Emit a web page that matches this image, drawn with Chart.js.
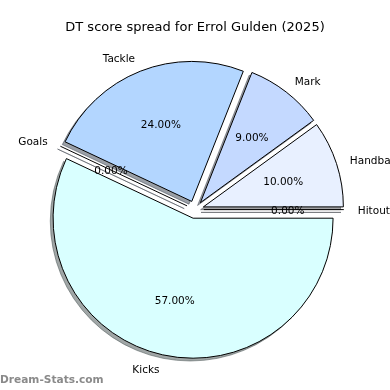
<!DOCTYPE html>
<html><head><meta charset="utf-8">
<script src="https://cdn.jsdelivr.net/npm/chart.js@4/dist/chart.umd.min.js"></script>
<style>html,body{margin:0;padding:0;background:#fff;}canvas{display:block;}</style>
</head><body>
<canvas id="c" width="390" height="390"></canvas>
<script>
// Slices listed clockwise on screen, starting at the 3 o'clock position
const categories = ['Kicks', 'Goals', 'Tackle', 'Mark', 'Handball', 'Hitout'];
const percentages = [57, 0, 24, 9, 10, 0];
const sliceColors = ['#d9ffff', '#cfe3ff', '#b3d6ff', '#c4d9ff', '#e8f0ff', '#dde8ff'];
const chartTitle = 'DT score spread for Errol Gulden (2025)';
const watermark = 'Dream-Stats.com';

const EXPLODE = 8.8;       // px each wedge is pushed out along its bisector
const SHADOW_DX = -2.8, SHADOW_DY = 2.8;
const LABEL_DIST = 1.1, PCT_DIST = 0.6;
const TEXT_DY = 1.5;
const FONT = '"DejaVu Sans", sans-serif';

function shade(hex, f) {
  const n = parseInt(hex.slice(1), 16);
  const r = Math.round(((n >> 16) & 255) * f), g = Math.round(((n >> 8) & 255) * f), b = Math.round((n & 255) * f);
  return `rgb(${r},${g},${b})`;
}

function geom(arc) {
  const p = arc.getProps(['x', 'y', 'startAngle', 'endAngle', 'outerRadius'], true);
  const mid = (p.startAngle + p.endAngle) / 2;
  return Object.assign(p, {mid, cx: p.x + EXPLODE * Math.cos(mid), cy: p.y + EXPLODE * Math.sin(mid)});
}

const mplPie = {
  id: 'mplPie',
  beforeDatasetDraw(chart, args) {
    const ctx = chart.ctx;
    const meta = args.meta;
    const gs = meta.data.map(geom);
    // shadows (all behind every wedge)
    ctx.save();
    ctx.globalAlpha = 0.5;
    ctx.lineWidth = 1;
    ctx.lineJoin = 'miter';
    gs.forEach((g, i) => {
      const c = shade(sliceColors[i], 0.3);
      const sx = g.cx + SHADOW_DX, sy = g.cy + SHADOW_DY;
      ctx.beginPath();
      ctx.moveTo(sx, sy);
      ctx.arc(sx, sy, g.outerRadius, g.startAngle, g.endAngle);
      ctx.closePath();
      ctx.fillStyle = c; ctx.strokeStyle = c;
      ctx.fill(); ctx.stroke();
    });
    ctx.restore();
    // wedges
    meta.data.forEach((arc, i) => {
      const g = gs[i];
      if (g.endAngle - g.startAngle > 1e-9) {
        ctx.save();
        ctx.translate(g.cx - g.x, g.cy - g.y);
        arc.draw(ctx, chart.chartArea);
        ctx.restore();
      } else {
        ctx.save();
        ctx.strokeStyle = '#000'; ctx.lineWidth = 1;
        ctx.beginPath();
        ctx.moveTo(g.cx, g.cy);
        ctx.lineTo(g.cx + g.outerRadius * Math.cos(g.startAngle), g.cy + g.outerRadius * Math.sin(g.startAngle));
        ctx.stroke();
        ctx.restore();
      }
    });
    return false;
  },
  afterDatasetsDraw(chart) {
    const ctx = chart.ctx;
    const meta = chart.getDatasetMeta(0);
    ctx.save();
    ctx.fillStyle = '#000';
    ctx.font = '10.5px ' + FONT;
    ctx.textBaseline = 'middle';
    meta.data.forEach((arc, i) => {
      const g = geom(arc);
      const cs = Math.cos(g.mid), sn = Math.sin(g.mid);
      const r = g.outerRadius;
      ctx.textAlign = cs > 0 ? 'left' : 'right';
      ctx.fillText(categories[i], g.cx + LABEL_DIST * r * cs, g.cy + LABEL_DIST * r * sn + TEXT_DY);
      ctx.textAlign = 'center';
      ctx.fillText(percentages[i].toFixed(2) + '%', g.cx + PCT_DIST * r * cs, g.cy + PCT_DIST * r * sn + TEXT_DY);
    });
    ctx.fillStyle = '#8a8a8a';
    ctx.font = 'bold 10.6px ' + FONT;
    ctx.textAlign = 'left';
    ctx.fillText(watermark, 0, 380.5);
    ctx.restore();
  }
};

new Chart(document.getElementById('c'), {
  type: 'pie',
  data: {
    labels: categories,
    datasets: [{
      data: percentages,
      backgroundColor: sliceColors,
      borderColor: '#000',
      borderWidth: 1,
      borderJoinStyle: 'miter'
    }]
  },
  options: {
    responsive: false,
    animation: false,
    rotation: 90,
    radius: 140,
    layout: {padding: {top: 0, bottom: 5.9, left: 0, right: 0}},
    plugins: {
      legend: {display: false},
      tooltip: {enabled: false},
      title: {
        display: true,
        text: chartTitle,
        color: '#000',
        font: {family: 'DejaVu Sans', size: 13, weight: 'normal', lineHeight: 1.2},
        padding: {top: 19.5, bottom: 0}
      }
    }
  },
  plugins: [mplPie]
});
</script>
</body></html>
